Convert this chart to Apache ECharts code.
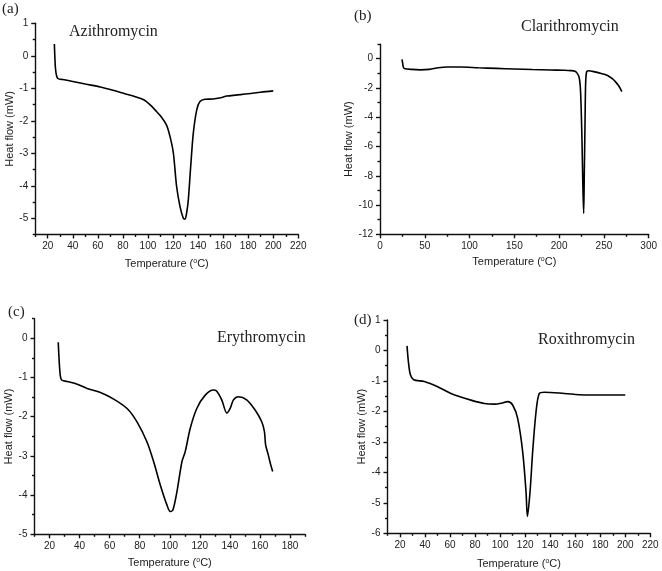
<!DOCTYPE html>
<html><head><meta charset="utf-8">
<script src="https://cdn.jsdelivr.net/npm/echarts@6/dist/echarts.min.js"></script>
<style>html,body{margin:0;padding:0;background:#fff}#c{width:662px;height:571px}</style>
</head><body><div id="c"></div>
<script>
// ---- data ----
const azithroT  = [25.3, 25.6, 26.2, 27.2, 28.5, 32, 40, 50, 62, 72, 81, 90, 97, 102, 106, 110.4, 115, 118, 120.3, 122.9, 125.6, 128.2, 129.6, 131, 132.2, 134.1, 136.2, 138.9, 141.5, 145.5, 152, 158, 163, 170, 180, 190, 200];
const azithroHF = [0.36, 0.05, -0.4, -0.64, -0.71, -0.73, -0.79, -0.87, -0.96, -1.06, -1.16, -1.26, -1.36, -1.52, -1.68, -1.87, -2.15, -2.55, -3.0, -4.03, -4.64, -5.0, -5.03, -4.8, -4.44, -3.41, -2.38, -1.67, -1.41, -1.34, -1.33, -1.29, -1.24, -1.21, -1.17, -1.12, -1.08];

const clariT  = [24.6, 25.3, 26.2, 28, 35, 45, 55, 65, 75, 90, 110, 130, 150, 170, 190, 205, 213, 217.7, 219.6, 222, 223.5, 224.5, 225.5, 226.6, 227.4, 228.1, 228.9, 229.6, 230.7, 232.6, 240, 248, 254, 259, 263, 267, 270];
const clariHF = [-0.05, -0.3, -0.6, -0.68, -0.73, -0.76, -0.73, -0.62, -0.57, -0.57, -0.62, -0.66, -0.7, -0.74, -0.77, -0.79, -0.81, -0.85, -0.95, -1.2, -1.8, -3.2, -5.56, -8.97, -10.57, -7.83, -4.42, -1.68, -0.89, -0.82, -0.9, -1.03, -1.15, -1.35, -1.58, -1.9, -2.25];

const erythroT  = [25.8, 26.9, 28, 31.7, 38.4, 45, 53.9, 62.7, 71.6, 78.2, 84.8, 89.3, 93.7, 98.1, 100.3, 102.1, 104.8, 108.1, 110.3, 113.6, 118, 123.6, 129.1, 131.3, 134.6, 138, 140.2, 142.4, 145.7, 151.2, 156.8, 161.2, 163, 163.8, 165.6, 167.2, 168.5];
const erythroHF = [-0.1, -0.85, -1.06, -1.1, -1.17, -1.28, -1.38, -1.55, -1.79, -2.13, -2.64, -3.15, -3.74, -4.25, -4.42, -4.38, -3.91, -3.15, -2.89, -2.3, -1.79, -1.45, -1.32, -1.35, -1.57, -1.91, -1.79, -1.57, -1.49, -1.57, -1.83, -2.13, -2.38, -2.72, -2.98, -3.23, -3.4];

const roxiT  = [25.6, 26.7, 28.3, 30.9, 39.4, 50.1, 60.7, 76.7, 87.4, 95.4, 101, 106, 110, 114, 118, 120.7, 121.8, 123.9, 126, 128.7, 131.3, 135.3, 151.3, 167.3, 185, 200];
const roxiHF = [0.15, -0.37, -0.8, -0.96, -1.02, -1.19, -1.41, -1.63, -1.74, -1.76, -1.73, -1.68, -1.79, -2.23, -3.32, -4.64, -5.45, -4.64, -3.32, -2.01, -1.41, -1.37, -1.41, -1.46, -1.46, -1.46];

// tick labels
const aXTicks = [20, 40, 60, 80, 100, 120, 140, 160, 180, 200, 220];
const aYTicks = [-5, -4, -3, -2, -1, 0, 1];
const bXTicks = [0, 50, 100, 150, 200, 250, 300];
const bYTicks = [-12, -10, -8, -6, -4, -2, 0];
const cXTicks = [20, 40, 60, 80, 100, 120, 140, 160, 180];
const cYTicks = [-5, -4, -3, -2, -1, 0];
const dXTicks = [20, 40, 60, 80, 100, 120, 140, 160, 180, 200, 220];
const dYTicks = [-6, -5, -4, -3, -2, -1, 0, 1];
// minor ticks
const aXMinor = [10, 30, 50, 70, 90, 110, 130, 150, 170, 190, 210];
const aYMinor = [-5.5, -4.5, -3.5, -2.5, -1.5, -0.5, 0.5];
const bXMinor = [25, 75, 125, 175, 225, 275];
const bYMinor = [-11, -9, -7, -5, -3, -1, 1];
const cXMinor = [10, 30, 50, 70, 90, 110, 130, 150, 170, 190];
const cYMinor = [-4.5, -3.5, -2.5, -1.5, -0.5, 0.5];
const dXMinor = [10, 30, 50, 70, 90, 110, 130, 150, 170, 190, 210];
const dYMinor = [-5.5, -4.5, -3.5, -2.5, -1.5, -0.5, 0.5];

const names = ['Azithromycin', 'Clarithromycin', 'Erythromycin', 'Roxithromycin'];
const panelTags = ['(a)', '(b)', '(c)', '(d)'];

// ---- layout ----
const panels = [
  {grid: {left: 35.2, top: 23.3, width: 263.1, height: 211.2}, x: [10, 220], y: [-5.5, 1], xt: aXTicks, yt: aYTicks, xm: aXMinor, ym: aYMinor, T: azithroT, H: azithroHF, xGap: 23, yGap: 14},
  {grid: {left: 380, top: 44.1, width: 268.7, height: 190.2}, x: [0, 300], y: [-12, 1], xt: bXTicks, yt: bYTicks, xm: bXMinor, ym: bYMinor, T: clariT, H: clariHF, xGap: 21, yGap: 24},
  {grid: {left: 34.5, top: 318.7, width: 270.5, height: 215.6}, x: [10, 190], y: [-5, 0.5], xt: cXTicks, yt: cYTicks, xm: cXMinor, ym: cYMinor, T: erythroT, H: erythroHF, xGap: 22, yGap: 14},
  {grid: {left: 387.5, top: 320, width: 262.8, height: 213.3}, x: [10, 220], y: [-6, 1], xt: dXTicks, yt: dYTicks, xm: dXMinor, ym: dYMinor, T: roxiT, H: roxiHF, xGap: 24, yGap: 13}
];

const axisLineStyle = {color: '#111', width: 1.4};
const labelStyle = {color: '#222', fontSize: 10, fontFamily: 'Liberation Sans, Arial, sans-serif', margin: 7};
const nameStyle = {color: '#222', fontSize: 11, fontFamily: 'Liberation Sans, Arial, sans-serif',
  rich: {s: {fontSize: 7, fontFamily: 'Liberation Sans, Arial, sans-serif', color: '#222', verticalAlign: 'top', padding: [0, 0, 6, 0]}}};

const grid = [], xAxis = [], yAxis = [], series = [];
panels.forEach((p, i) => {
  grid.push(Object.assign({containLabel: false}, p.grid));
  xAxis.push({type: 'value', gridIndex: i, min: p.x[0], max: p.x[1], position: 'bottom',
    name: 'Temperature ({s|o}C)', nameLocation: 'middle', nameGap: p.xGap, nameTextStyle: nameStyle,
    axisLine: {show: true, onZero: false, lineStyle: axisLineStyle},
    axisTick: {show: true, inside: false, length: 4, customValues: p.xt, lineStyle: axisLineStyle},
    axisLabel: Object.assign({customValues: p.xt, showMinLabel: true, showMaxLabel: true}, labelStyle),
    splitLine: {show: false}});
  xAxis.push({type: 'value', gridIndex: i, min: p.x[0], max: p.x[1], position: 'bottom',
    axisLine: {show: false, onZero: false},
    axisTick: {show: true, inside: false, length: 2.5, customValues: p.xm, lineStyle: axisLineStyle},
    axisLabel: {show: false}, splitLine: {show: false}});
  yAxis.push({type: 'value', gridIndex: i, min: p.y[0], max: p.y[1], position: 'left',
    name: 'Heat flow (mW)', nameLocation: 'middle', nameGap: p.yGap, nameRotate: 90, nameTextStyle: nameStyle,
    axisLine: {show: true, onZero: false, lineStyle: axisLineStyle},
    axisTick: {show: true, inside: false, length: 4, customValues: p.yt, lineStyle: axisLineStyle},
    axisLabel: Object.assign({customValues: p.yt}, labelStyle),
    splitLine: {show: false}});
  yAxis.push({type: 'value', gridIndex: i, min: p.y[0], max: p.y[1], position: 'left',
    axisLine: {show: false, onZero: false},
    axisTick: {show: true, inside: false, length: 2.5, customValues: p.ym, lineStyle: axisLineStyle},
    axisLabel: {show: false}, splitLine: {show: false}});
  series.push({type: 'line', xAxisIndex: 2 * i, yAxisIndex: 2 * i, showSymbol: false, smooth: 0.3,
    lineStyle: {color: '#000', width: 1.6}, silent: true, animation: false,
    data: p.T.map((t, k) => [t, p.H[k]])});
});

const serif = 'Liberation Serif, Times New Roman, serif';
const titlePos = [[69, 33], [521, 28], [217, 339], [538, 341]];
const tagPos = [[2, 10], [354, 17], [8, 313], [354, 321]];
const graphic = [];
names.forEach((n, i) => {
  graphic.push({type: 'text', left: titlePos[i][0], top: titlePos[i][1] - 9,
    style: {text: n, fontFamily: serif, fontSize: 16, fill: '#222'}});
  graphic.push({type: 'text', left: tagPos[i][0], top: tagPos[i][1] - 8,
    style: {text: panelTags[i], fontFamily: serif, fontSize: 15, fill: '#222'}});
});

const chart = echarts.init(document.getElementById('c'), null, {renderer: 'canvas'});
chart.setOption({animation: false, backgroundColor: '#fff', grid, xAxis, yAxis, series, graphic});
</script>
</body></html>
